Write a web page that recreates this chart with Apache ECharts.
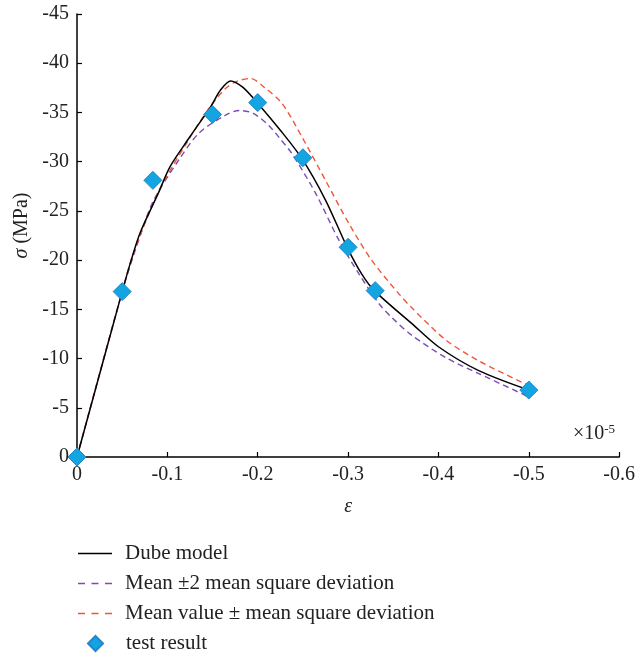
<!DOCTYPE html>
<html>
<head>
<meta charset="utf-8">
<script src="https://cdn.jsdelivr.net/npm/echarts@6/dist/echarts.min.js"></script>
<style>
  html, body { margin: 0; padding: 0; background: #fff; }
  #main { width: 638px; height: 654px; }
</style>
</head>
<body>
<div id="main"></div>
<script>
// strain (x1e-5) / stress (MPa)
var dubeModel = [
  [0, 0], [-0.05, -16.8], [-0.06, -20.0], [-0.07, -22.8], [-0.09, -26.8], [-0.103, -29.5],
  [-0.124, -32.4], [-0.148, -35.6], [-0.159, -37.3], [-0.17, -38.2], [-0.183, -37.6],
  [-0.197, -36.25], [-0.225, -33.2], [-0.249, -30.3], [-0.275, -26.1], [-0.299, -21.3],
  [-0.315, -18.6], [-0.329, -16.9], [-0.37, -13.6], [-0.4, -11.2], [-0.444, -8.8], [-0.5, -6.8]
];
var meanTwoDev = [
  [0, 0], [-0.05, -16.8], [-0.07, -22.5], [-0.085, -26.1], [-0.1125, -30.15], [-0.135, -32.9],
  [-0.164, -34.7], [-0.18, -35.2], [-0.195, -34.9], [-0.212, -33.7], [-0.225, -32.3],
  [-0.238, -30.8], [-0.264, -26.8], [-0.29, -22.0], [-0.312, -18.6], [-0.334, -15.6],
  [-0.348, -14.2], [-0.37, -12.4], [-0.408, -10.1], [-0.444, -8.5], [-0.5, -6.1]
];
var meanOneDev = [
  [0, 0], [-0.05, -16.8], [-0.061, -20.3], [-0.09, -26.9], [-0.124, -32.3], [-0.146, -35.4],
  [-0.164, -37.4], [-0.178, -38.2], [-0.192, -38.45], [-0.208, -37.5], [-0.227, -35.9],
  [-0.249, -32.5], [-0.275, -28.1], [-0.301, -23.7], [-0.326, -20.0], [-0.356, -16.6],
  [-0.37, -15.2], [-0.408, -11.9], [-0.444, -9.8], [-0.492, -7.6], [-0.5, -7.3]
];
var testStrain = [0, -0.05, -0.084, -0.15, -0.2, -0.25, -0.3, -0.33, -0.5];
var testStress = [0, -16.8, -28.1, -34.8, -36.0, -30.4, -21.3, -16.9, -6.8];

var font = 'Liberation Serif';
var solidIcon = 'path://M0,0h34v1.5h-34z';
var dashIcon = 'path://M0,0h7v1.5h-7zM13.5,0h7v1.5h-7zM27,0h7v1.5h-7z';

var chart = echarts.init(document.getElementById('main'));

var option = {
  backgroundColor: '#fff',
  animation: false,
  textStyle: { fontFamily: font },
  grid: { left: 77, right: 17, top: 14, bottom: 197 },
  xAxis: {
    type: 'value',
    min: -0.6, max: 0, interval: 0.1,
    inverse: true,
    name: 'ε',
    nameLocation: 'middle',
    nameGap: 40,
    nameTextStyle: { fontFamily: font, fontSize: 20, fontStyle: 'italic', color: '#222' },
    axisLine: { onZero: false, lineStyle: { color: '#000', width: 1.5 } },
    axisTick: { inside: true, length: 5, lineStyle: { color: '#000', width: 1.2 } },
    axisLabel: { fontFamily: font, fontSize: 20, color: '#222', margin: 8 },
    splitLine: { show: false }
  },
  yAxis: {
    type: 'value',
    min: -45, max: 0, interval: 5,
    inverse: true,
    name: '{i|σ} (MPa)',
    nameLocation: 'middle',
    nameGap: 38,
    nameRotate: 90,
    nameTextStyle: {
      fontFamily: font, fontSize: 20, color: '#222', padding: [0, 0, 0, 20],
      rich: { i: { fontFamily: font, fontSize: 20, fontStyle: 'italic', color: '#222' } }
    },
    axisLine: { onZero: false, lineStyle: { color: '#000', width: 1.5 } },
    axisTick: { inside: true, length: 5, lineStyle: { color: '#000', width: 1.2 } },
    axisLabel: { fontFamily: font, fontSize: 20, color: '#222', margin: 8 },
    splitLine: { show: false }
  },
  legend: [{
    orient: 'vertical',
    left: 73, top: 538,
    itemWidth: 34, itemHeight: 14, itemGap: 9,
    itemStyle: { borderWidth: 0 },
    textStyle: { fontFamily: font, fontSize: 21, color: '#222', padding: [0, 0, 0, 8] },
    data: [
      { name: 'Dube model', icon: solidIcon },
      { name: 'Mean ±2 mean square deviation', icon: dashIcon },
      { name: 'Mean value ± mean square deviation', icon: dashIcon }
    ]
  }, {
    orient: 'vertical',
    left: 82, top: 628,
    itemWidth: 15, itemHeight: 15,
    textStyle: { fontFamily: font, fontSize: 21, color: '#222', padding: [0, 0, 0, 18] },
    data: [{ name: 'test result', icon: 'diamond' }]
  }],
  graphic: [{
    type: 'text',
    left: 573, top: 423,
    style: {
      text: '×10{s|-5}',
      fontFamily: font, fontSize: 20, fill: '#222',
      rich: { s: { fontFamily: font, fontSize: 13, verticalAlign: 'top', padding: [0, 0, 9, 0] } }
    }
  }],
  series: [
    {
      name: 'Dube model', type: 'line', data: dubeModel,
      smooth: 0.3, symbol: 'none', z: 3,
      lineStyle: { color: '#000', width: 1.5 },
      itemStyle: { color: '#000' }
    },
    {
      name: 'Mean ±2 mean square deviation', type: 'line', data: meanTwoDev,
      smooth: 0.3, symbol: 'none', z: 2,
      lineStyle: { color: '#7d4bb5', width: 1.4, type: [6, 4] },
      itemStyle: { color: '#7d4bb5' }
    },
    {
      name: 'Mean value ± mean square deviation', type: 'line', data: meanOneDev,
      smooth: 0.3, symbol: 'none', z: 2,
      lineStyle: { color: '#f0563a', width: 1.4, type: [6, 4] },
      itemStyle: { color: '#f0563a' }
    },
    {
      name: 'test result', type: 'scatter',
      data: testStrain.map(function (x, i) { return [x, testStress[i]]; }),
      symbol: 'diamond', symbolSize: 18, z: 5,
      itemStyle: { color: '#13a4e2', borderColor: '#2784c6', borderWidth: 1, opacity: 1 }
    }
  ]
};

chart.setOption(option);
</script>
</body>
</html>
